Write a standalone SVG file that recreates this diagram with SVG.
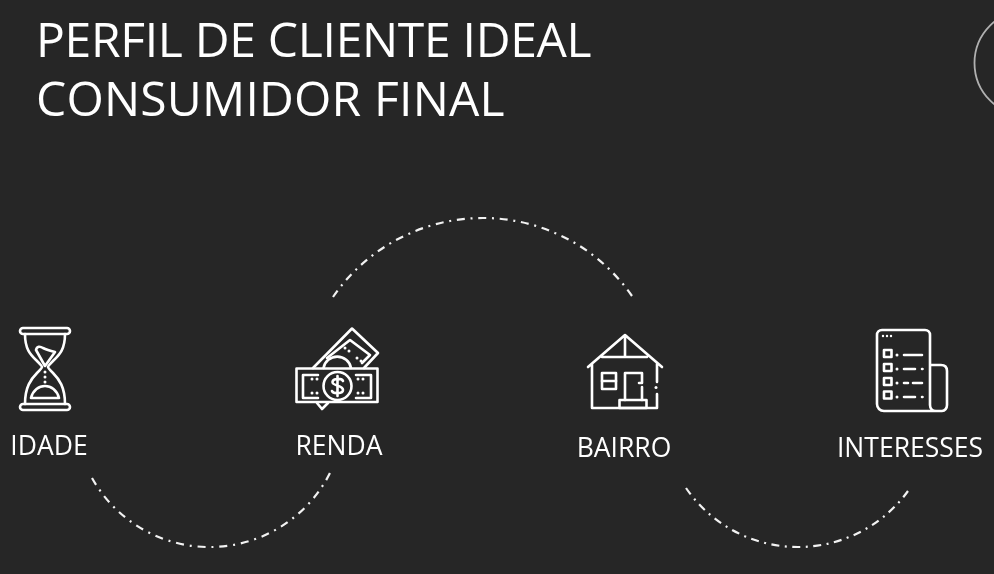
<svg xmlns="http://www.w3.org/2000/svg" width="994" height="574" viewBox="0 0 994 574">
<defs><filter id="soft" x="-5%" y="-5%" width="110%" height="110%"><feGaussianBlur stdDeviation="0.45"/></filter></defs>
<style>
text{font-family:"Open Sans","Noto Sans","Liberation Sans",sans-serif;fill:#fff}
.t{font-size:48px}
.l{font-size:26.500px;text-anchor:middle}
.a{fill:none;stroke:#f2f2f2;stroke-width:2.200}
.i{fill:none;stroke:#fff;stroke-width:2.600;stroke-linejoin:round;stroke-linecap:round}
.d{fill:#fff}
</style>
<rect width="994" height="574" fill="#262626"/>
<g filter="url(#soft)">
<g id="title"><text class="t" x="36" y="57" letter-spacing="-0.3">PERFIL DE CLIENTE IDEAL</text><text class="t" x="36" y="116" letter-spacing="0.2">CONSUMIDOR FINAL</text></g>
<circle id="corner-circle" cx="1027.5" cy="63" r="53" fill="none" stroke="#b0b0b0" stroke-width="1.800"/>
<g id="connectors">
<path class="a" stroke-dasharray="8 5.720 2 5.720" d="M333 297A181.6 181.6 0 0 1 632 296"/>
<path class="a" stroke-dasharray="8 5.900 2 5.900" d="M92 478A134.8 134.8 0 0 0 330 473"/>
<path class="a" stroke-dasharray="8 5.490 2 5.490" d="M686 488A135.9 135.9 0 0 0 908 491"/>
</g>
<g id="idade">
<g class="i">
<rect x="20" y="328" width="50" height="6" rx="3"/><rect x="20" y="404" width="50" height="6" rx="3"/>
<path d="M25 334C25 350 31 355 37 361C41 365 42 366 42 367C42 368 41 369 37 373C31 379 25 387 25 404M65 334C65 350 59 355 53 361C49 365 48 366 48 367C48 368 49 369 53 373C59 379 65 387 65 404"/>
<path d="M45 366L36 350C37 346 40 346 43 348C47 350 51 351 55 352Z"/>
<path d="M31 398C33 390 39 386 45 386C51 386 57 390 59 398Z"/>
</g>
<g class="d"><circle cx="45" cy="372" r="1.500"/><circle cx="45" cy="377" r="1.500"/><circle cx="45" cy="382" r="1.500"/></g>
<text class="l" x="49" y="455">IDADE</text>
</g>
<g id="renda">
<g class="i">
<rect x="296.500" y="368.500" width="81" height="33.500"/>
<path d="M313 368L352 328.500L378 353L364 368"/>
<path d="M327 358L350 340L370 355L362 363"/>
<path d="M323.500 368A14 14 0 0 1 351 368"/>
<path d="M318 375H303V398H318M356 375H371V398H356"/>
<circle cx="337.500" cy="386" r="14"/>
<path d="M343 381C342 378 333 378 332.500 382C332 386 343 385 343 390C343 394 333 394 332 391M337.500 376V396"/>
<path d="M317 403L322 409L328 403"/>
</g>
<g class="d"><circle cx="312" cy="379" r="1.500"/><circle cx="317" cy="379" r="1.500"/><circle cx="312" cy="393" r="1.500"/><circle cx="317" cy="393" r="1.500"/><circle cx="358" cy="379" r="1.500"/><circle cx="363" cy="379" r="1.500"/><circle cx="358" cy="393" r="1.500"/><circle cx="363" cy="393" r="1.500"/><circle cx="345" cy="348" r="1.500"/><circle cx="349" cy="351" r="1.500"/><circle cx="357" cy="358" r="1.500"/><circle cx="361" cy="361" r="1.500"/></g>
<text class="l" x="339" y="455">RENDA</text>
</g>
<g id="bairro">
<g class="i">
<path d="M588 367L625 335L662 367M602 357H647M625 336V357M592 364V408H657V394M657 382V364"/>
<rect x="602" y="373" width="14" height="16"/><path d="M602 381H616"/>
<path d="M625 400V373H642V383H639M642 387V400"/><rect x="619.500" y="400" width="27" height="8"/>
</g>
<circle class="d" cx="656" cy="387.500" r="1.500"/>
<text class="l" x="624" y="457">BAIRRO</text>
</g>
<g id="interesses">
<g class="i">
<path d="M930 367V335C930 332 928 330 925 330H882C879 330 877 332 877 335V404C877 408 880 411 884 411H942C945 411 947 408 947 405V371C947 367 945 365 941 365H930M930 365V405C930 408 932 411 936 411"/>
<rect x="884" y="350" width="7.500" height="7"/><rect x="884" y="364" width="7.500" height="7"/><rect x="884" y="378" width="7.500" height="7"/><rect x="884" y="391.500" width="7.500" height="7"/>
<path d="M904 355H922M904 369H915M922 369H922.500M904 383H908M913 383H922M904 397H915M922 397H922.500"/>
</g>
<g class="d"><circle cx="883" cy="336" r="1.200"/><circle cx="887" cy="336" r="1.200"/><circle cx="891" cy="336" r="1.200"/><circle cx="897" cy="355" r="1.500"/><circle cx="897" cy="369" r="1.500"/><circle cx="897" cy="383" r="1.500"/><circle cx="897" cy="397" r="1.500"/></g>
<text class="l" x="910" y="457">INTERESSES</text>
</g>
</g>
</svg>
